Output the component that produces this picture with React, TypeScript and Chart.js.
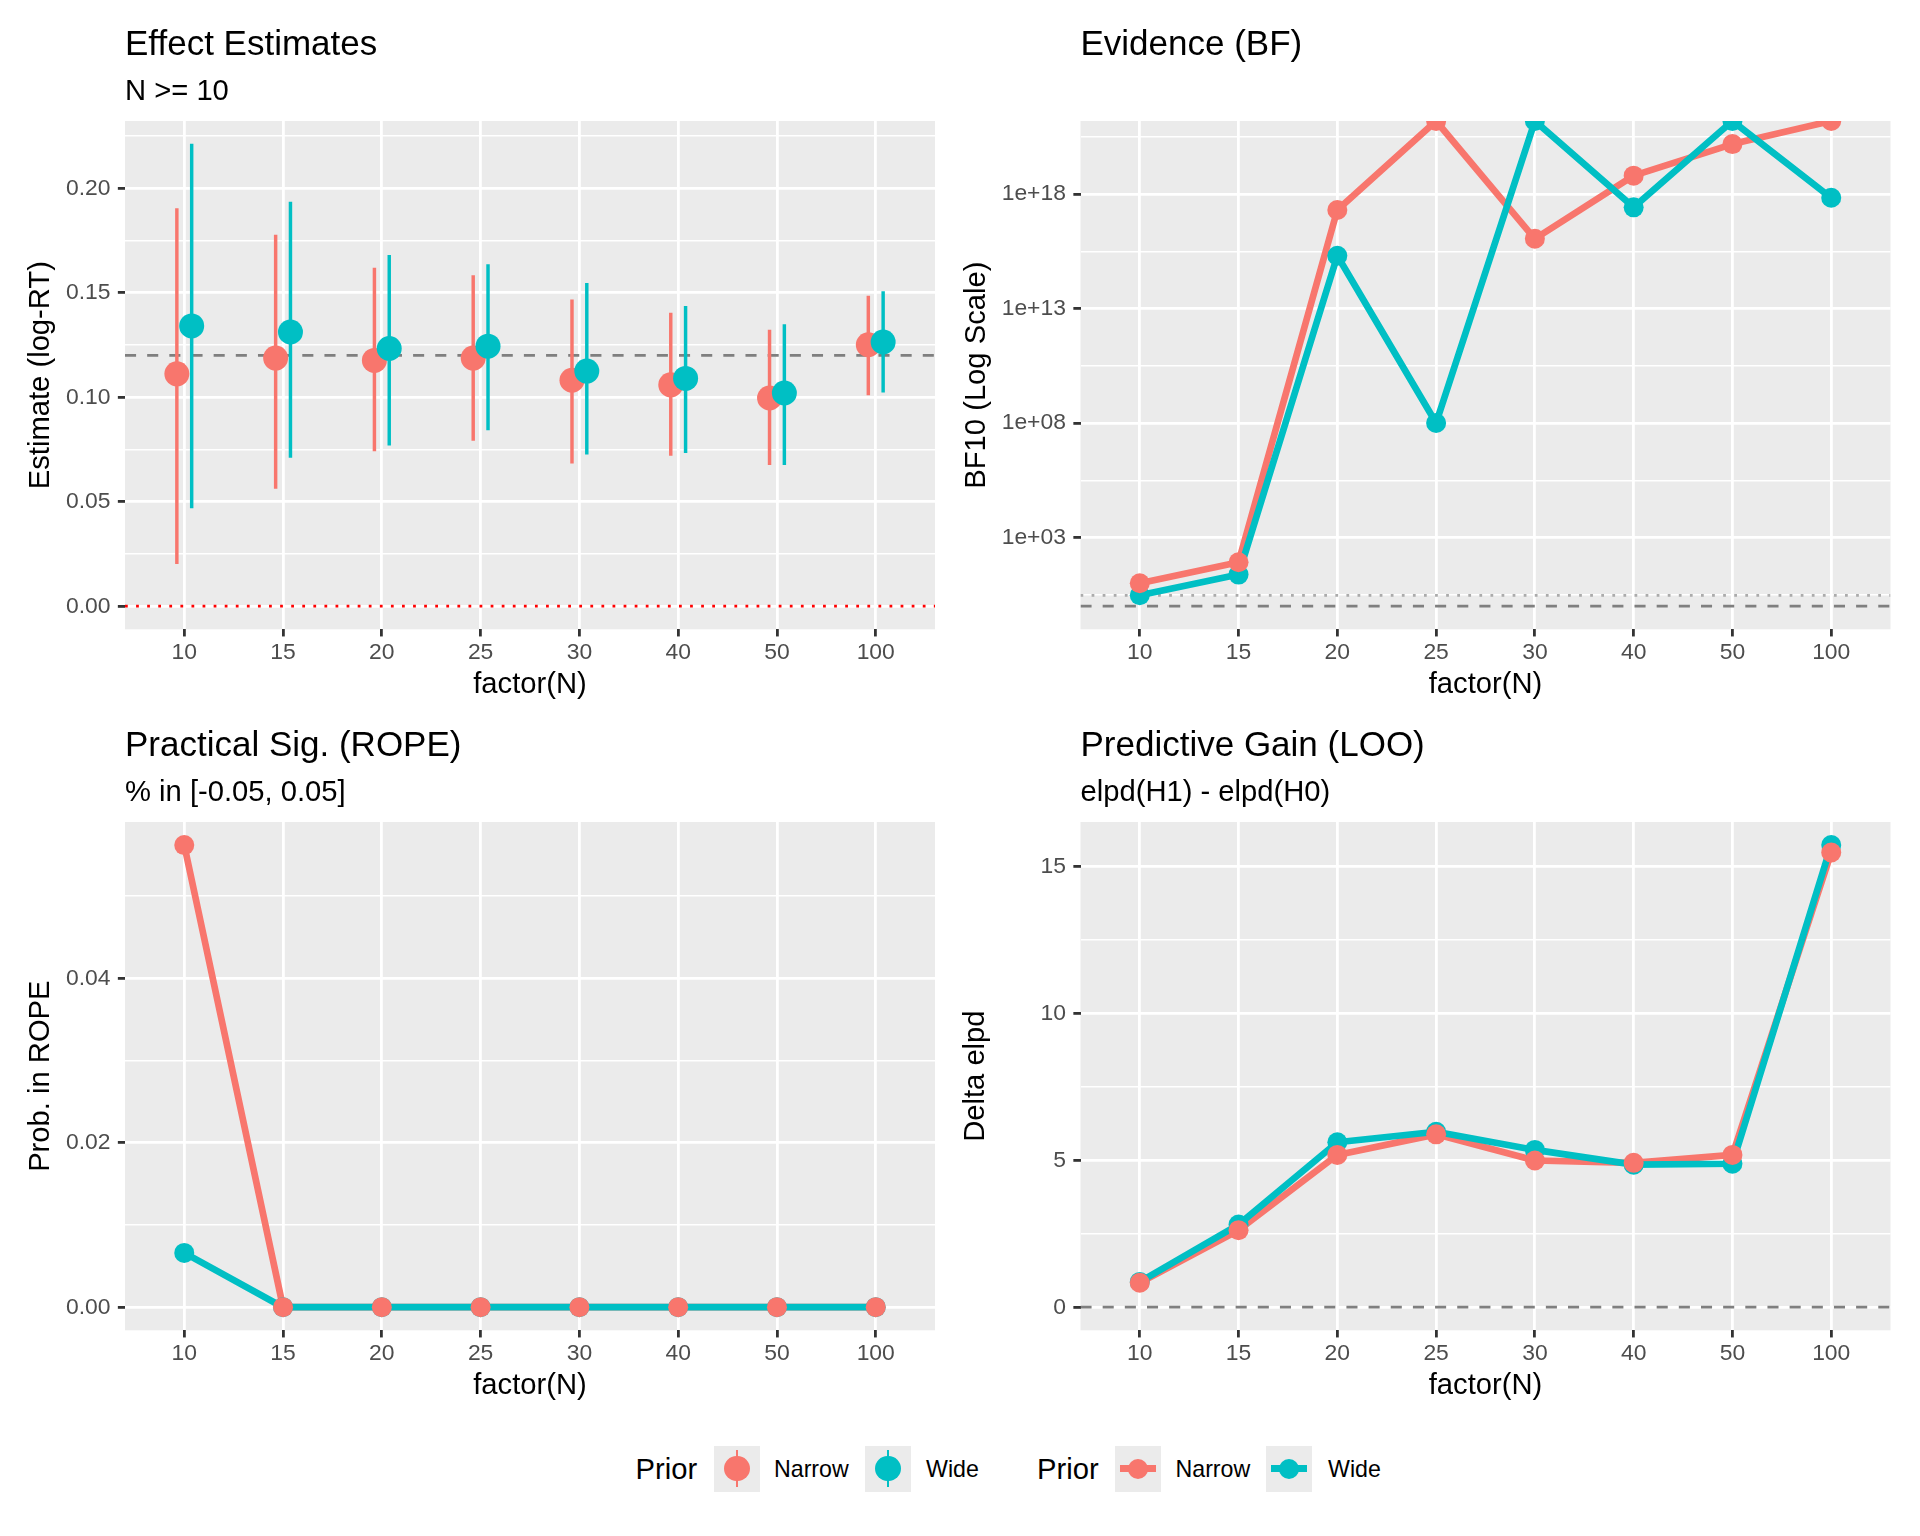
import React, { useEffect, useRef } from 'react';
import { Chart, registerables } from 'chart.js';

Chart.register(...registerables);

const FONT = '"Liberation Sans", Arial, Helvetica, sans-serif';
Chart.defaults.font.family = FONT;

// ---------------- data ----------------
const CATEGORIES = ['10', '15', '20', '25', '30', '40', '50', '100'];
const PRIORS = ['Narrow', 'Wide'];

// Effect estimates (posterior mean and 95% interval)
const EST_NARROW = [0.1112, 0.1187, 0.1176, 0.1187, 0.1081, 0.1059, 0.0996, 0.1251];
const EST_NARROW_LOW = [0.0204, 0.0563, 0.0743, 0.0793, 0.0684, 0.0721, 0.0677, 0.1011];
const EST_NARROW_HIGH = [0.1903, 0.1776, 0.1618, 0.1582, 0.1466, 0.1402, 0.1321, 0.1484];
const EST_WIDE = [0.1341, 0.1312, 0.1233, 0.1244, 0.1125, 0.109, 0.102, 0.1264];
const EST_WIDE_LOW = [0.047, 0.0712, 0.0771, 0.0844, 0.0727, 0.0734, 0.0677, 0.1024];
const EST_WIDE_HIGH = [0.2211, 0.1934, 0.1679, 0.1635, 0.1545, 0.1435, 0.1347, 0.1505];
const EST_TRUE = 0.12;
const EST_ZERO = 0;

// Bayes factors (Infinity = overflow, drawn at the panel edge)
const BF_NARROW = [10, 83, 2.0e17, Infinity, 1.1e16, 6.3e18, 1.5e20, Infinity];
const BF_WIDE = [3.0, 24, 2.0e15, 1.0e8, Infinity, 2.6e17, Infinity, 6.8e17];
const BF_NULL = 1;
const BF_WEAK = 3;

// ROPE probabilities
const ROPE_NARROW = [0.0562, 0, 0, 0, 0, 0, 0, 0];
const ROPE_WIDE = [0.0066, 0, 0, 0, 0, 0, 0, 0];

// LOO delta elpd
const LOO_NARROW = [0.83, 2.62, 5.18, 5.88, 4.99, 4.91, 5.18, 15.47];
const LOO_WIDE = [0.86, 2.81, 5.61, 5.97, 5.35, 4.85, 4.88, 15.72];
const LOO_ZERO = 0;

// tick values / labels
const EST_TICKS = [0, 0.05, 0.1, 0.15, 0.2];
const EST_TICK_LABELS = ['0.00', '0.05', '0.10', '0.15', '0.20'];
const EST_MINOR = [0.025, 0.075, 0.125, 0.175, 0.225];
const BF_TICKS = [1e3, 1e8, 1e13, 1e18];
const BF_TICK_LABELS = ['1e+03', '1e+08', '1e+13', '1e+18'];
const BF_MINOR = [10 ** 0.5, 10 ** 5.5, 10 ** 10.5, 10 ** 15.5, 10 ** 20.5];
const ROPE_TICKS = [0, 0.02, 0.04];
const ROPE_TICK_LABELS = ['0.00', '0.02', '0.04'];
const ROPE_MINOR = [0.01, 0.03, 0.05];
const LOO_TICKS = [0, 5, 10, 15];
const LOO_TICK_LABELS = ['0', '5', '10', '15'];
const LOO_MINOR = [2.5, 7.5, 12.5];

// ---------------- style ----------------
const RED = '#F8766D';
const CYAN = '#00BFC4';
const COLORS = [RED, CYAN];
const PANEL_BG = '#EBEBEB';
const GRID_MAJOR = 2.8;
const GRID_MINOR = 1.4;
const TICK_LEN = 7.15;
const LINE_W = 6.7;
const POINT_R = 10;
const RANGE_POINT_R = 12.5;
const RANGE_W = 2.8;
const DODGE = 0.075;
const REF_W = 2.77;
const DASHED = [REF_W * 4, REF_W * 4];
const DOTTED = [REF_W, REF_W * 3];
const TITLE_SIZE = 35;
const TEXT_SIZE = 29.2;
const TICK_SIZE = 22.9;
const KEY_TEXT_SIZE = 23.2;

const X_MIN = -0.6;
const X_MAX = CATEGORIES.length - 1 + 0.6;

function expandRange(values: number[], mult = 0.05): [number, number] {
  const lo = Math.min(...values);
  const hi = Math.max(...values);
  const pad = (hi - lo) * mult;
  return [lo - pad, hi + pad];
}

const EST_RANGE = expandRange([...EST_NARROW_LOW, ...EST_NARROW_HIGH, ...EST_WIDE_LOW, ...EST_WIDE_HIGH, EST_TRUE, EST_ZERO]);
const BF_LOG_RANGE = expandRange([...BF_NARROW, ...BF_WIDE, BF_NULL, BF_WEAK].filter((v) => Number.isFinite(v)).map((v) => Math.log10(v)));
const BF_MIN = 10 ** BF_LOG_RANGE[0];
const BF_MAX = 10 ** BF_LOG_RANGE[1];
const ROPE_RANGE = expandRange([...ROPE_NARROW, ...ROPE_WIDE]);
const LOO_RANGE = expandRange([...LOO_NARROW, ...LOO_WIDE, LOO_ZERO]);

type HLine = { value: number; color: string; width: number; dash: number[] };

function decorPlugin(hlines: HLine[]) {
  return {
    id: 'panelDecor',
    beforeDraw(chart: any) {
      const { ctx, chartArea: a } = chart;
      ctx.save();
      ctx.fillStyle = PANEL_BG;
      ctx.fillRect(a.left, a.top, a.right - a.left, a.bottom - a.top);
      ctx.restore();
    },
    beforeDatasetsDraw(chart: any) {
      const { ctx, chartArea: a } = chart;
      const y = chart.scales.y;
      ctx.save();
      ctx.beginPath();
      ctx.rect(a.left, a.top, a.right - a.left, a.bottom - a.top);
      ctx.clip();
      for (const h of hlines) {
        const py = y.getPixelForValue(h.value);
        ctx.strokeStyle = h.color;
        ctx.lineWidth = h.width;
        ctx.lineCap = 'butt';
        ctx.setLineDash(h.dash);
        ctx.beginPath();
        ctx.moveTo(a.left, py);
        ctx.lineTo(a.right, py);
        ctx.stroke();
      }
      ctx.restore();
    },
  };
}

function xAxis(): any {
  return {
    type: 'linear',
    min: X_MIN,
    max: X_MAX,
    bounds: 'data',
    offset: false,
    afterBuildTicks: (s: any) => {
      s.ticks = CATEGORIES.map((_, i) => ({ value: i }));
    },
    afterFit: (s: any) => {
      s.height = 71.7;
    },
    border: { display: false },
    grid: {
      offset: false,
      color: '#FFFFFF',
      lineWidth: GRID_MAJOR,
      drawTicks: true,
      tickLength: TICK_LEN,
      tickColor: '#333333',
      tickWidth: GRID_MAJOR,
    },
    ticks: {
      autoSkip: false,
      maxRotation: 0,
      minRotation: 0,
      padding: 2.6,
      color: '#4D4D4D',
      font: { family: FONT, size: TICK_SIZE, lineHeight: 1.2 },
      callback: (_v: any, i: number) => CATEGORIES[i],
    },
    title: {
      display: true,
      text: 'factor(N)',
      color: '#000000',
      font: { family: FONT, size: TEXT_SIZE, lineHeight: 1 },
      padding: { top: 0, bottom: 1.5 },
    },
  };
}

function yAxis(o: {
  type: string;
  min: number;
  max: number;
  majors: number[];
  labels: string[];
  minors: number[];
  width: number;
  title: string;
  titlePad: number;
}): any {
  const isMinor = (c: any) => !!(c && c.tick && c.tick.isMinorTick);
  return {
    type: o.type,
    min: o.min,
    max: o.max,
    bounds: 'data',
    afterBuildTicks: (s: any) => {
      const t = [
        ...o.majors.map((v, i) => ({ value: v, text: o.labels[i], isMinorTick: false })),
        ...o.minors.map((v) => ({ value: v, text: '', isMinorTick: true })),
      ].filter((tk) => tk.value >= o.min && tk.value <= o.max);
      t.sort((a, b) => a.value - b.value);
      s.ticks = t;
    },
    afterFit: (s: any) => {
      s.width = o.width;
    },
    border: { display: false },
    grid: {
      color: '#FFFFFF',
      lineWidth: (c: any) => (isMinor(c) ? GRID_MINOR : GRID_MAJOR),
      drawTicks: true,
      tickLength: TICK_LEN,
      tickColor: (c: any) => (isMinor(c) ? 'rgba(0,0,0,0)' : '#333333'),
      tickWidth: GRID_MAJOR,
    },
    ticks: {
      autoSkip: false,
      padding: 7.4,
      color: '#4D4D4D',
      font: { family: FONT, size: TICK_SIZE, lineHeight: 1.2 },
      callback: (_v: any, i: number, ticks: any[]) => (ticks[i] && ticks[i].text) || '',
    },
    title: {
      display: true,
      text: o.title,
      color: '#000000',
      font: { family: FONT, size: TEXT_SIZE, lineHeight: 1 },
      padding: { top: o.titlePad, bottom: 0 },
    },
  };
}

function titles(title: string, subtitle?: string): any {
  const base = { display: true, align: 'start', fullSize: false, color: '#000000' };
  return {
    title: {
      ...base,
      text: title,
      font: { family: FONT, size: TITLE_SIZE, weight: 'normal', lineHeight: 1 },
      padding: { top: 27.35, bottom: subtitle ? 0 : 58.65 },
    },
    subtitle: subtitle
      ? {
          ...base,
          text: subtitle,
          font: { family: FONT, size: TEXT_SIZE, weight: 'normal', lineHeight: 1 },
          padding: { top: 14.53, bottom: 14.92 },
        }
      : { display: false },
  };
}

function baseOptions(rightPad: number, plugins: any, scales: any): any {
  return {
    responsive: false,
    animation: false,
    events: [],
    layout: { padding: { left: 0, right: rightPad, top: 0, bottom: 0 } },
    plugins: { legend: { display: false }, tooltip: { enabled: false }, ...plugins },
    scales,
  };
}

function lineLayers(narrow: number[], wide: number[], map: (v: number) => number = (v) => v): any[] {
  const pts = (arr: number[]) => arr.map((v, i) => ({ x: i, y: map(v) }));
  const line = (arr: number[], color: string, order: number, label: string) => ({
    type: 'line',
    label,
    data: pts(arr),
    borderColor: color,
    backgroundColor: color,
    borderWidth: LINE_W,
    borderJoinStyle: 'round',
    borderCapStyle: 'butt',
    pointRadius: 0,
    tension: 0,
    fill: false,
    order,
  });
  const points = (arr: number[], color: string, order: number, label: string) => ({
    type: 'scatter',
    label,
    data: pts(arr),
    showLine: false,
    pointRadius: POINT_R,
    pointBackgroundColor: color,
    backgroundColor: color,
    pointBorderWidth: 0,
    borderWidth: 0,
    order,
  });
  return [
    line(narrow, COLORS[0], 4, PRIORS[0]),
    line(wide, COLORS[1], 3, PRIORS[1]),
    points(wide, COLORS[1], 2, PRIORS[1]),
    points(narrow, COLORS[0], 1, PRIORS[0]),
  ];
}

function effectConfig(): any {
  const bars = (lo: number[], hi: number[], shift: number, color: string, order: number, label: string) => ({
    type: 'bar',
    label,
    data: lo.map((l, i) => ({ x: i + shift, y: [l, hi[i]] })),
    backgroundColor: color,
    borderWidth: 0,
    barThickness: RANGE_W,
    grouped: false,
    order,
  });
  const points = (vals: number[], shift: number, color: string, order: number, label: string) => ({
    type: 'scatter',
    label,
    data: vals.map((v, i) => ({ x: i + shift, y: v })),
    pointRadius: RANGE_POINT_R,
    pointBackgroundColor: color,
    backgroundColor: color,
    pointBorderWidth: 0,
    borderWidth: 0,
    order,
  });
  return {
    type: 'scatter',
    data: {
      datasets: [
        bars(EST_NARROW_LOW, EST_NARROW_HIGH, -DODGE, RED, 4, PRIORS[0]),
        bars(EST_WIDE_LOW, EST_WIDE_HIGH, DODGE, CYAN, 3, PRIORS[1]),
        points(EST_NARROW, -DODGE, RED, 2, PRIORS[0]),
        points(EST_WIDE, DODGE, CYAN, 1, PRIORS[1]),
      ],
    },
    options: baseOptions(25, titles('Effect Estimates', 'N >= 10'), {
      x: xAxis(),
      y: yAxis({
        type: 'linear',
        min: EST_RANGE[0],
        max: EST_RANGE[1],
        majors: EST_TICKS,
        labels: EST_TICK_LABELS,
        minors: EST_MINOR,
        width: 125,
        title: 'Estimate (log-RT)',
        titlePad: 26.2,
      }),
    }),
    plugins: [
      decorPlugin([
        { value: EST_ZERO, color: '#FF0000', width: REF_W, dash: DOTTED },
        { value: EST_TRUE, color: '#7F7F7F', width: REF_W, dash: DASHED },
      ]),
    ],
  };
}

function bfConfig(): any {
  const cap = (v: number) => (Number.isFinite(v) ? v : BF_MAX);
  return {
    type: 'line',
    data: { datasets: lineLayers(BF_NARROW, BF_WIDE, cap) },
    options: baseOptions(29.5, titles('Evidence (BF)'), {
      x: xAxis(),
      y: yAxis({
        type: 'logarithmic',
        min: BF_MIN,
        max: BF_MAX,
        majors: BF_TICKS,
        labels: BF_TICK_LABELS,
        minors: BF_MINOR,
        width: 120.5,
        title: 'BF10 (Log Scale)',
        titlePad: 1.9,
      }),
    }),
    plugins: [
      decorPlugin([
        { value: BF_NULL, color: '#7F7F7F', width: REF_W, dash: DASHED },
        { value: BF_WEAK, color: '#ABABAB', width: REF_W, dash: DOTTED },
      ]),
    ],
  };
}

function ropeConfig(): any {
  return {
    type: 'line',
    data: { datasets: lineLayers(ROPE_NARROW, ROPE_WIDE) },
    options: baseOptions(25, titles('Practical Sig. (ROPE)', '% in [-0.05, 0.05]'), {
      x: xAxis(),
      y: yAxis({
        type: 'linear',
        min: ROPE_RANGE[0],
        max: ROPE_RANGE[1],
        majors: ROPE_TICKS,
        labels: ROPE_TICK_LABELS,
        minors: ROPE_MINOR,
        width: 125,
        title: 'Prob. in ROPE',
        titlePad: 26.2,
      }),
    }),
    plugins: [decorPlugin([])],
  };
}

function looConfig(): any {
  return {
    type: 'line',
    data: { datasets: lineLayers(LOO_NARROW, LOO_WIDE) },
    options: baseOptions(29.5, titles('Predictive Gain (LOO)', 'elpd(H1) - elpd(H0)'), {
      x: xAxis(),
      y: yAxis({
        type: 'linear',
        min: LOO_RANGE[0],
        max: LOO_RANGE[1],
        majors: LOO_TICKS,
        labels: LOO_TICK_LABELS,
        minors: LOO_MINOR,
        width: 120.5,
        title: 'Delta elpd',
        titlePad: 1.5,
      }),
    }),
    plugins: [decorPlugin([{ value: LOO_ZERO, color: '#7F7F7F', width: REF_W, dash: DASHED }])],
  };
}

function Panel({ left, top, build }: { left: number; top: number; build: () => any }) {
  const ref = useRef<HTMLCanvasElement | null>(null);
  useEffect(() => {
    if (!ref.current) return;
    const chart = new Chart(ref.current, build());
    return () => chart.destroy();
  }, []);
  return (
    <canvas
      ref={ref}
      width={960}
      height={701}
      style={{ position: 'absolute', left, top, width: 960, height: 701, display: 'block' }}
    />
  );
}

function LegendText({ left, baseline, size, text }: { left: number; baseline: number; size: number; text: string }) {
  return (
    <div
      style={{
        position: 'absolute',
        left,
        top: baseline - 0.8465 * size,
        fontSize: size,
        lineHeight: `${size}px`,
        fontFamily: FONT,
        color: '#000000',
        whiteSpace: 'nowrap',
      }}
    >
      {text}
    </div>
  );
}

function RangeKey({ left, color }: { left: number; color: string }) {
  return (
    <div style={{ position: 'absolute', left, top: 1445.7, width: 46, height: 46, background: PANEL_BG }}>
      <div style={{ position: 'absolute', left: 23 - RANGE_W / 2, top: 4.6, width: RANGE_W, height: 36.8, background: color }} />
      <div
        style={{
          position: 'absolute',
          left: 23 - 12.7,
          top: 23 - 12.7,
          width: 25.4,
          height: 25.4,
          borderRadius: '50%',
          background: color,
        }}
      />
    </div>
  );
}

function PathKey({ left, color }: { left: number; color: string }) {
  return (
    <div style={{ position: 'absolute', left, top: 1445.7, width: 46, height: 46, background: PANEL_BG }}>
      <div style={{ position: 'absolute', left: 4.6, top: 23 - LINE_W / 2, width: 36.8, height: LINE_W, background: color }} />
      <div
        style={{
          position: 'absolute',
          left: 23 - POINT_R,
          top: 23 - POINT_R,
          width: POINT_R * 2,
          height: POINT_R * 2,
          borderRadius: '50%',
          background: color,
        }}
      />
    </div>
  );
}

function Legend() {
  return (
    <>
      <LegendText left={635.5} baseline={1480} size={TEXT_SIZE} text="Prior" />
      <RangeKey left={714} color={COLORS[0]} />
      <LegendText left={774} baseline={1477.7} size={KEY_TEXT_SIZE} text={PRIORS[0]} />
      <RangeKey left={865} color={COLORS[1]} />
      <LegendText left={926} baseline={1477.7} size={KEY_TEXT_SIZE} text={PRIORS[1]} />

      <LegendText left={1037} baseline={1480} size={TEXT_SIZE} text="Prior" />
      <PathKey left={1115} color={COLORS[0]} />
      <LegendText left={1175.5} baseline={1477.7} size={KEY_TEXT_SIZE} text={PRIORS[0]} />
      <PathKey left={1266} color={COLORS[1]} />
      <LegendText left={1328} baseline={1477.7} size={KEY_TEXT_SIZE} text={PRIORS[1]} />
    </>
  );
}

export default function App() {
  return (
    <div
      style={{
        position: 'absolute',
        left: 0,
        top: 0,
        width: 1920,
        height: 1536,
        background: '#FFFFFF',
        fontFamily: FONT,
        overflow: 'hidden',
      }}
    >
      <Panel left={0} top={0} build={effectConfig} />
      <Panel left={960} top={0} build={bfConfig} />
      <Panel left={0} top={701} build={ropeConfig} />
      <Panel left={960} top={701} build={looConfig} />
      <Legend />
    </div>
  );
}
